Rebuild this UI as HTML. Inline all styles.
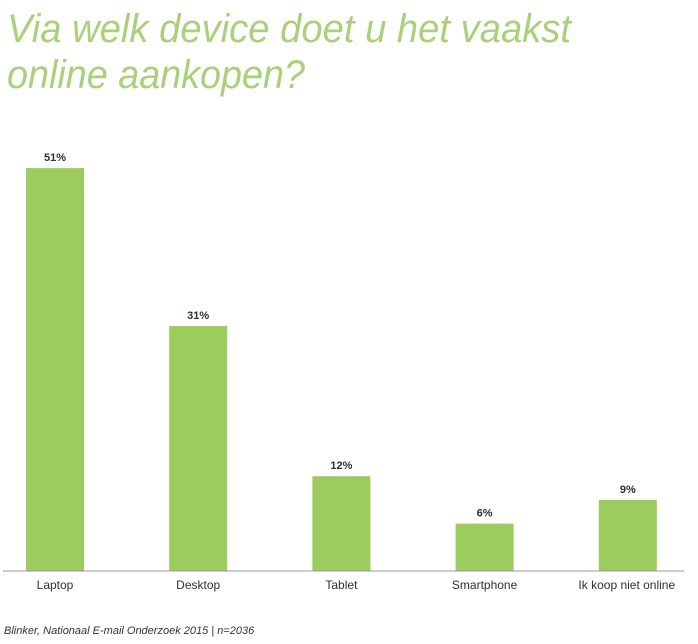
<!DOCTYPE html>
<html><head><meta charset="utf-8"><style>
html,body{margin:0;padding:0;background:#fff;}
svg{display:block;font-family:"Liberation Sans",sans-serif;}
</style></head><body>
<svg width="698" height="644" viewBox="0 0 698 644">
<text x="7" y="42" font-size="40" font-style="italic" fill="#a9d17a" textLength="564" lengthAdjust="spacingAndGlyphs">Via welk device doet u het vaakst</text>
<text x="7" y="88" font-size="40" font-style="italic" fill="#a9d17a" textLength="298" lengthAdjust="spacingAndGlyphs">online aankopen?</text>
<g id="bars"></g>
<line x1="3" y1="571" x2="684" y2="571" stroke="#999" stroke-width="1"/>
<text x="4" y="634" font-size="11" font-style="italic" fill="#333">Blinker, Nationaal E-mail Onderzoek 2015 | n=2036</text>
</svg>
<script>
const categories=["Laptop","Desktop","Tablet","Smartphone","Ik koop niet online"];
const values=[51,31,12,6,9];
const valueLabels=["51%","31%","12%","6%","9%"];
const ns="http://www.w3.org/2000/svg";
const g=document.getElementById("bars");
const baseY=571, pxPer=7.9, x0=26, step=143.2, bw=58;
function xPos(i){return x0+i*step;}
function yPos(v){return baseY-v*pxPer;}
categories.forEach((c,i)=>{
  const x=xPos(i), y=yPos(values[i]);
  const r=document.createElementNS(ns,"rect");
  r.setAttribute("x",x);r.setAttribute("y",y);r.setAttribute("width",bw);r.setAttribute("height",baseY-y);r.setAttribute("fill","#9ccb5e");
  
  
  g.appendChild(r);
  const t=document.createElementNS(ns,"text");
  t.setAttribute("x",x+bw/2);t.setAttribute("y",y-7);t.setAttribute("text-anchor","middle");t.setAttribute("font-size","11");t.setAttribute("font-weight","bold");t.setAttribute("fill","#2b2f3a");
  t.textContent=valueLabels[i];
  
  
  g.appendChild(t);
  const l=document.createElementNS(ns,"text");
  l.setAttribute("x",x+bw/2+(i==4?-1:0));l.setAttribute("y",589);l.setAttribute("text-anchor","middle");l.setAttribute("font-size","12");l.setAttribute("fill","#2b2f3a");
  l.textContent=c;
  
  
  g.appendChild(l);
});
</script>
</body></html>
